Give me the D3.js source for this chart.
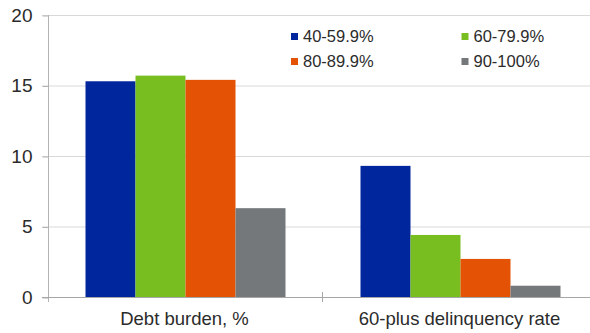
<!DOCTYPE html>
<html>
<head>
<meta charset="utf-8">
<script src="https://cdn.jsdelivr.net/npm/d3@7"></script>
<style>
  html, body { margin: 0; padding: 0; background: #fff; }
  svg { display: block; font-family: "Liberation Sans", Arial, sans-serif; }
</style>
</head>
<body>
<svg id="chart" width="590" height="333"></svg>
<script>
// Chart data
const categories = ["Debt burden, %", "60-plus delinquency rate"];
const seriesNames = ["40-59.9%", "60-79.9%", "80-89.9%", "90-100%"];
const seriesColors = ["#00269E", "#78BE20", "#E35205", "#75787B"];
const values40 = [15.3, 9.3];
const values60 = [15.7, 4.4];
const values80 = [15.4, 2.7];
const values90 = [6.3, 0.8];
const yTicks = [0, 5, 10, 15, 20];

const seriesValues = [values40, values60, values80, values90];

const svg = d3.select("#chart");
const margin = { left: 48, top: 15, bottom: 36 };
const W = 590, H = 333;
const plotBottom = H - margin.bottom;
const textColor = "#2b2b2b";

const y = d3.scaleLinear().domain([0, 20]).range([plotBottom, margin.top]);
const x0 = d3.scaleBand().domain(categories).range([margin.left, margin.left + 550]).padding(0);
const x1 = d3.scaleBand().domain(seriesNames).range([0, x0.bandwidth()]).paddingInner(0).paddingOuter(0.75);

// Horizontal gridlines
svg.append("g")
  .selectAll("line")
  .data(yTicks.filter(d => d > 0))
  .join("line")
  .attr("x1", margin.left - 6)
  .attr("x2", W)
  .attr("y1", d => y(d) + 0.5)
  .attr("y2", d => y(d) + 0.5)
  .attr("stroke", "#d9d9d9")
  .attr("stroke-width", 1);

// Bars
const groups = svg.append("g")
  .selectAll("g")
  .data(categories)
  .join("g")
  .attr("transform", d => `translate(${x0(d)},0)`);

groups.selectAll("rect")
  .data((c, ci) => seriesNames.map((s, si) => ({ s, si, v: seriesValues[si][ci] })))
  .join("rect")
  .attr("x", d => x1(d.s))
  .attr("width", x1.bandwidth())
  .attr("y", d => y(d.v))
  .attr("height", d => y(0) - y(d.v))
  .attr("fill", d => seriesColors[d.si]);

// Y axis
const yAxis = d3.axisLeft(y).tickValues(yTicks).tickSize(6).tickPadding(10).tickFormat(d3.format("d"));
const gy = svg.append("g")
  .attr("transform", `translate(${margin.left + 0.5},0)`)
  .call(yAxis);
gy.select(".domain").remove();
gy.selectAll(".tick line").attr("stroke", "#b3b3b3").attr("transform", "translate(0,0.5)");
gy.selectAll(".tick text")
  .attr("fill", textColor)
  .style("font-size", "19px")
  .style("font-family", "'Liberation Sans', Arial, sans-serif");
gy.append("line")
  .attr("x1", 0).attr("x2", 0)
  .attr("y1", margin.top).attr("y2", plotBottom + 5)
  .attr("stroke", "#b3b3b3");

// X axis baseline and category separators
svg.append("line")
  .attr("x1", margin.left - 6).attr("x2", W)
  .attr("y1", plotBottom + 0.5).attr("y2", plotBottom + 0.5)
  .attr("stroke", "#a6a6a6");

svg.append("g")
  .selectAll("line")
  .data(categories.slice(1))
  .join("line")
  .attr("x1", d => Math.round(x0(d)) - 0.5)
  .attr("x2", d => Math.round(x0(d)) - 0.5)
  .attr("y1", plotBottom - 5)
  .attr("y2", plotBottom + 5)
  .attr("stroke", "#a6a6a6");

svg.append("g")
  .selectAll("text")
  .data(categories)
  .join("text")
  .attr("x", d => x0(d) + x0.bandwidth() / 2 - 1)
  .attr("y", plotBottom + 28)
  .attr("text-anchor", "middle")
  .attr("fill", textColor)
  .style("font-size", "18.5px")
  .text(d => d);

// Legend
const legendPos = [
  { x: 291, y: 33 }, { x: 461.5, y: 33 },
  { x: 291, y: 58 }, { x: 461.5, y: 58 }
];
const legend = svg.append("g")
  .selectAll("g")
  .data(seriesNames)
  .join("g")
  .attr("transform", (d, i) => `translate(${legendPos[i].x},${legendPos[i].y})`);
legend.append("rect")
  .attr("width", 7).attr("height", 7)
  .attr("fill", (d, i) => seriesColors[i]);
legend.append("text")
  .attr("x", 12)
  .attr("y", 9)
  .attr("fill", textColor)
  .style("font-size", "16.5px")
  .text(d => d);
</script>
</body>
</html>
